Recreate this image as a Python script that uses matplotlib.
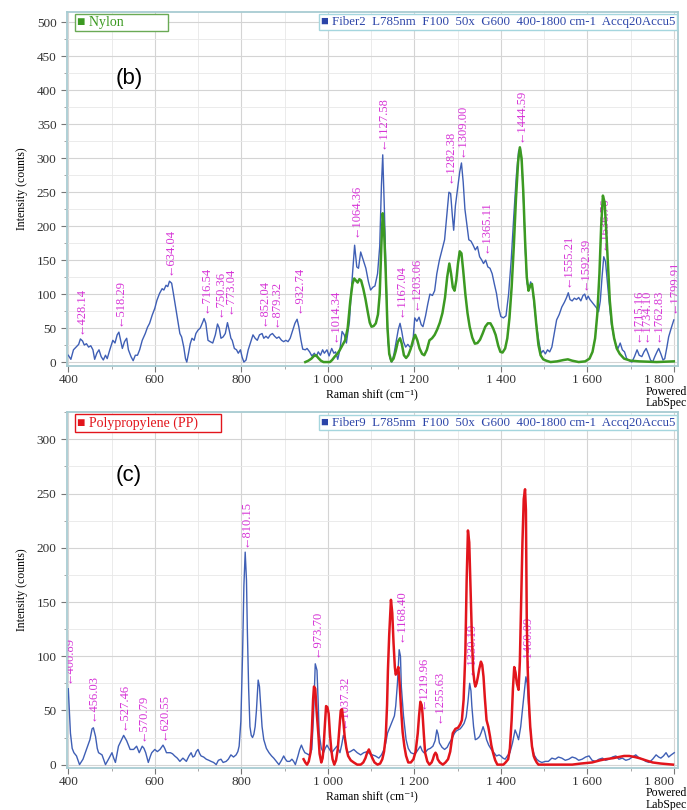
import matplotlib
matplotlib.use("Agg")
import matplotlib.pyplot as plt
from matplotlib.ticker import MultipleLocator, FuncFormatter

SERIF = ["Liberation Serif", "DejaVu Serif"]
MAGENTA = "#d634d6"
BLUE = "#3f5fb5"
GREEN = "#3c9a22"
RED = "#e2151c"

# ---- panel (b): Fiber2 vs Nylon reference ----
fiber2_x = [400, 406, 412, 418, 424, 428, 433, 437, 442, 447, 452, 457, 461, 466, 471, 476, 481, 486, 490, 496,
            503, 508, 513, 517, 521, 525, 530, 535, 539, 545, 550, 555, 560, 565, 571, 578, 583, 588, 594, 600,
            605, 611, 617, 621, 626, 630, 634, 639, 643, 648, 653, 658, 662, 667, 671, 674, 678, 682, 686, 691,
            695, 700, 705, 711, 714, 718, 723, 728, 734, 740, 745, 749, 753, 758, 763, 768, 772, 776, 779, 784,
            789, 793, 798, 802, 806, 811, 816, 822, 827, 832, 837, 842, 848, 852, 857, 862, 867, 872, 877, 882,
            887, 893, 898, 903, 908, 913, 919, 924, 929, 933, 938, 942, 948, 952, 958, 963, 969, 973, 978, 983,
            988, 992, 998, 1003, 1009, 1014, 1018, 1023, 1028, 1033, 1038, 1043, 1050, 1056, 1062, 1067, 1071, 1076,
            1082, 1088, 1094, 1099, 1104, 1109, 1115, 1120, 1124, 1127, 1131, 1135, 1139, 1144, 1148, 1153, 1158,
            1163, 1167, 1171, 1175, 1180, 1185, 1190, 1196, 1201, 1206, 1211, 1216, 1220, 1226, 1231, 1236, 1242,
            1247, 1252, 1258, 1264, 1270, 1275, 1280, 1284, 1288, 1291, 1295, 1300, 1305, 1309, 1313, 1317, 1321,
            1326, 1331, 1336, 1341, 1346, 1351, 1356, 1360, 1365, 1370, 1375, 1380, 1385, 1390, 1395, 1400, 1406,
            1412, 1418, 1424, 1430, 1436, 1441, 1445, 1449, 1453, 1457, 1461, 1465, 1469, 1473, 1478, 1483, 1488,
            1493, 1498, 1503, 1508, 1513, 1518, 1523, 1529, 1535, 1541, 1547, 1552, 1556, 1560, 1565, 1570, 1575,
            1580, 1585, 1590, 1594, 1598, 1602, 1606, 1611, 1616, 1621, 1626, 1630, 1634, 1638, 1642, 1646, 1651,
            1656, 1661, 1666, 1671, 1676, 1681, 1686, 1691, 1697, 1703, 1709, 1715, 1720, 1726, 1731, 1736, 1741,
            1746, 1751, 1756, 1761, 1765, 1770, 1775, 1779, 1784, 1788, 1794, 1800]
fiber2_y = [10, 4, 18, 22, 26, 34, 31, 25, 27, 22, 24, 18, 4, 13, 18, 8, 3, 10, 5, 18,
            32, 28, 40, 44, 32, 20, 30, 35, 18, 8, 2, 10, 10, 18, 32, 42, 51, 57, 69, 79,
            91, 101, 108, 106, 113, 111, 119, 116, 101, 81, 62, 42, 37, 22, 5, 0, 13, 27, 35, 32,
            42, 47, 50, 59, 64, 57, 32, 30, 28, 40, 56, 50, 35, 37, 42, 58, 47, 35, 32, 20,
            18, 13, 18, 7, 0, 3, 18, 30, 40, 35, 32, 40, 42, 35, 38, 35, 40, 42, 38, 35,
            37, 32, 30, 32, 30, 35, 47, 57, 63, 52, 32, 19, 18, 20, 15, 9, 13, 8, 15, 10,
            18, 13, 18, 9, 20, 13, 15, 4, 18, 45, 40, 28, 60, 120, 172, 140, 138, 162,
            150, 138, 118, 106, 110, 112, 130, 170, 260, 305, 220, 120, 30, 5, 0, 12, 30,
            48, 57, 45, 30, 22, 26, 22, 24, 65, 60, 66, 55, 52, 68, 85, 100, 98,
            105, 130, 150, 165, 180, 215, 250, 248, 215, 194, 230, 255, 280, 293, 265, 225, 205,
            180, 178, 172, 165, 170, 155, 150, 145, 150, 140, 138, 130, 115, 101, 80, 67, 65,
            68, 100, 150, 215, 275, 310, 316, 290, 230, 160, 115, 108, 118, 110, 80, 52, 30,
            13, 17, 12, 18, 15, 22, 40, 62, 70, 81, 88, 95, 102, 92, 90, 94, 92,
            95, 90, 98, 100, 92, 97, 92, 88, 84, 80, 74, 90, 125, 155, 148, 120, 85,
            55, 38, 25, 20, 28, 18, 15, 5, 2, 0, 8, 18, 10, 8, 15, 20, 12,
            3, 0, 8, 15, 20, 12, 3, 5, 22, 37, 50, 62]

nylon_x = [948, 955, 962, 968, 973, 978, 984, 990, 998, 1005, 1010, 1016, 1022, 1028, 1034, 1040, 1046, 1052,
           1057, 1061, 1065, 1069, 1073, 1077, 1082, 1087, 1092, 1097, 1101, 1106, 1111, 1116, 1120, 1124, 1127,
           1130, 1134, 1138, 1142, 1147, 1152, 1157, 1162, 1167, 1171, 1176, 1181, 1186, 1192, 1197, 1202, 1207,
           1212, 1218, 1223, 1229, 1235, 1241, 1247, 1253, 1259, 1265, 1271, 1276, 1281, 1285, 1289, 1293, 1297,
           1301, 1305, 1309, 1313, 1318, 1323, 1328, 1334, 1340, 1346, 1352, 1358, 1364, 1370, 1376, 1382, 1388,
           1394, 1399, 1404, 1410, 1415, 1420, 1425, 1430, 1435, 1440, 1444, 1448, 1452, 1456, 1460, 1464, 1468,
           1472, 1477, 1482, 1487, 1492, 1498, 1505, 1515, 1530, 1545, 1555, 1565, 1580, 1595, 1605, 1612, 1618,
           1623, 1628, 1632, 1636, 1640, 1644, 1648, 1652, 1657, 1662, 1668, 1675, 1685, 1700, 1720, 1760, 1800]
nylon_y = [0, 2, 5, 9, 10, 6, 2, 0, 0, 0, 3, 8, 12, 18, 25, 32, 50, 90,
           115, 123, 120, 117, 122, 120, 108, 93, 75, 58, 52, 53, 57, 70, 100, 175, 219,
           195, 130, 50, 12, 1, 5, 16, 30, 35, 27, 10, 6, 10, 20, 32, 40, 32,
           20, 12, 10, 18, 32, 35, 40, 48, 58, 72, 95, 125, 145, 130, 110, 105, 120,
           145, 163, 160, 135, 100, 72, 52, 36, 27, 28, 33, 42, 52, 57, 57, 50, 40,
           24, 15, 14, 20, 35, 65, 110, 170, 240, 295, 316, 300, 250, 180, 125, 105, 112,
           115, 90, 55, 25, 10, 4, 2, 0, 1, 3, 4, 2, 0, 1, 5, 15, 35,
           70, 130, 200, 245, 235, 190, 140, 90, 55, 35, 20, 12, 5, 2, 1, 0, 1]

peaks_b = [428.14, 518.29, 634.04, 716.54, 750.36, 773.04, 852.04, 879.32, 932.74, 1014.34, 1064.36, 1127.58,
           1167.04, 1203.06, 1282.38, 1309.00, 1365.11, 1444.59, 1555.21, 1592.39, 1636.76, 1715.16, 1734.10,
           1762.83, 1799.91]
peak_tips_b = [42, 53, 128, 72, 67, 70, 53, 52, 72, 30, 184, 314, 67, 76, 263, 302, 160, 324, 111, 106, 165,
               30, 30, 30, 72]

# ---- panel (c): Fiber9 vs Polypropylene reference ----
fiber9_x = [400, 405, 409, 413, 419, 426, 434, 442, 450, 455, 458, 463, 467, 470, 478, 486, 493, 501, 505, 509,
            516, 522, 528, 535, 540, 543, 551, 558, 564, 571, 575, 579, 585, 590, 593, 600, 606, 612, 619, 623,
            627, 636, 641, 646, 652, 658, 665, 673, 679, 684, 688, 692, 696, 700, 704, 707, 713, 719, 725, 730,
            736, 742, 747, 753, 758, 765, 770, 776, 782, 788, 792, 795, 799, 803, 806, 809, 812, 814, 817, 820,
            823, 826, 829, 832, 835, 839, 842, 845, 848, 852, 858, 864, 870, 875, 881, 887, 893, 898, 902, 906,
            912, 917, 921, 925, 931, 935, 939, 943, 947, 952, 956, 960, 963, 967, 971, 975, 978, 980, 985, 990,
            994, 998, 1004, 1009, 1015, 1021, 1025, 1028, 1032, 1036, 1040, 1045, 1052, 1060, 1068, 1076, 1083, 1091,
            1097, 1103, 1110, 1118, 1124, 1130, 1134, 1138, 1144, 1150, 1154, 1157, 1161, 1165, 1168, 1170, 1175,
            1181, 1186, 1192, 1198, 1204, 1209, 1214, 1218, 1222, 1227, 1231, 1237, 1243, 1248, 1252, 1255, 1258,
            1264, 1270, 1276, 1281, 1287, 1293, 1297, 1301, 1306, 1310, 1315, 1320, 1324, 1328, 1331, 1333, 1337,
            1341, 1346, 1351, 1355, 1359, 1363, 1367, 1372, 1378, 1384, 1390, 1396, 1400, 1405, 1410, 1415, 1421,
            1427, 1433, 1437, 1441, 1446, 1450, 1455, 1458, 1461, 1464, 1468, 1472, 1477, 1483, 1489, 1495, 1503,
            1510, 1518, 1526, 1533, 1541, 1549, 1557, 1565, 1573, 1580, 1588, 1596, 1604, 1611, 1619, 1627, 1635,
            1642, 1650, 1658, 1666, 1673, 1681, 1689, 1697, 1704, 1712, 1720, 1728, 1735, 1743, 1751, 1759, 1765,
            1770, 1776, 1782, 1788, 1794, 1801]
fiber9_y = [70, 29, 15, 11, 8, 0, 5, 14, 23, 33, 34, 26, 15, 11, 9, 0, 5, 11, 6, 2,
            17, 22, 27, 22, 17, 14, 14, 17, 11, 17, 15, 11, 2, 8, 11, 14, 12, 14, 18, 15,
            11, 11, 10, 8, 6, 3, 6, 3, 8, 11, 7, 8, 12, 14, 10, 8, 7, 5, 4, 3,
            2, 0, 4, 5, 2, 3, 5, 9, 7, 9, 12, 17, 40, 103, 165, 196, 170, 124, 70, 35,
            27, 25, 28, 35, 50, 78, 72, 54, 35, 23, 15, 11, 8, 6, 3, 0, 4, 8, 5, 3,
            3, 5, 3, 0, 8, 14, 18, 14, 11, 10, 9, 11, 14, 45, 93, 87, 55, 29, 15, 11,
            15, 18, 14, 11, 14, 17, 14, 11, 18, 27, 22, 11, 12, 14, 11, 9, 11, 12,
            10, 9, 8, 6, 9, 14, 20, 29, 35, 41, 45, 54, 75, 106, 100, 72, 45,
            23, 15, 11, 10, 11, 14, 17, 13, 11, 12, 14, 15, 17, 22, 32, 28, 20,
            16, 14, 16, 20, 24, 29, 31, 32, 33, 35, 38, 44, 58, 75, 68, 54, 35,
            23, 24, 26, 30, 35, 30, 23, 18, 14, 11, 8, 9, 8, 6, 5, 8, 11,
            20, 32, 28, 23, 35, 51, 70, 81, 75, 57, 35, 17, 9, 5, 3, 2, 3,
            3, 6, 5, 7, 6, 4, 5, 7, 6, 4, 5, 7, 8, 4, 3, 5, 6,
            4, 5, 7, 8, 5, 6, 4, 5, 7, 9, 6, 5, 3, 2, 5, 9, 7,
            6, 8, 11, 7, 9, 11]

pp_x = [944, 948, 952, 956, 960, 963, 966, 968, 971, 974, 978, 981, 985, 988, 990, 993, 996, 999, 1002, 1005,
        1008, 1011, 1015, 1019, 1023, 1027, 1030, 1033, 1036, 1039, 1043, 1047, 1053, 1060, 1068, 1076, 1082, 1087,
        1091, 1095, 1099, 1103, 1108, 1115, 1121, 1126, 1130, 1134, 1137, 1139, 1142, 1146, 1149, 1152, 1155, 1157,
        1160, 1163, 1166, 1169, 1173, 1177, 1181, 1186, 1192, 1198, 1203, 1208, 1211, 1214, 1217, 1219, 1222, 1225,
        1230, 1235, 1240, 1243, 1246, 1249, 1252, 1254, 1259, 1266, 1272, 1278, 1283, 1289, 1295, 1301, 1306, 1310,
        1314, 1318, 1321, 1324, 1327, 1330, 1333, 1336, 1339, 1341, 1344, 1347, 1350, 1354, 1357, 1360, 1363, 1367,
        1371, 1375, 1378, 1382, 1387, 1392, 1399, 1406, 1411, 1417, 1421, 1425, 1428, 1431, 1434, 1437, 1441, 1444,
        1447, 1450, 1453, 1456, 1458, 1460, 1462, 1465, 1468, 1472, 1476, 1479, 1483, 1487, 1500, 1526, 1550, 1565,
        1585, 1611, 1630, 1642, 1660, 1673, 1685, 1697, 1710, 1720, 1735, 1751, 1770, 1798]
pp_y = [5, 2, 0, 3, 11, 30, 60, 72, 70, 50, 29, 10, 2, 6, 14, 35, 54, 53, 47, 28,
        14, 5, 0, 4, 14, 35, 50, 51, 40, 26, 15, 8, 4, 2, 0, 0, 2, 6,
        11, 14, 10, 6, 2, 0, 1, 5, 12, 26, 55, 87, 120, 152, 140, 112, 90, 83,
        85, 90, 75, 54, 30, 17, 8, 2, 2, 5, 12, 29, 45, 58, 55, 47, 28, 11,
        3, 0, 2, 5, 9, 11, 9, 5, 2, 0, 2, 5, 12, 29, 33, 34, 37, 41,
        60, 103, 170, 216, 205, 164, 120, 87, 76, 72, 75, 81, 88, 95, 92, 81, 62, 41,
        35, 26, 18, 11, 4, 0, 0, 0, 2, 5, 15, 41, 70, 90, 85, 75, 69, 95,
        149, 205, 245, 254, 235, 133, 90, 57, 35, 17, 8, 5, 2, 0, 0, 0, 0, 0,
        1, 2, 4, 5, 6, 7, 8, 8, 7, 6, 4, 2, 1, 0]

peaks_c = [400.89, 456.03, 527.46, 570.79, 620.55, 810.15, 973.70, 1037.32, 1168.40, 1219.96, 1255.63,
           1330.19, 1460.09]
peak_tips_c = [75, 40, 32, 22, 23, 201, 99, 34, 113, 51, 38, 83, 89]

x_ticks = [400, 600, 800, 1000, 1200, 1400, 1600, 1800]


def thousands(v, pos):
    return f"{int(round(v)):,}".replace(",", " ")


def style_axes(ax, ylim, ymajor):
    ax.set_xlim(397, 1809)
    ax.set_ylim(*ylim)
    ax.set_xticks(x_ticks)
    ax.xaxis.set_minor_locator(MultipleLocator(100))
    ax.yaxis.set_major_locator(MultipleLocator(ymajor))
    ax.yaxis.set_minor_locator(MultipleLocator(ymajor / 2))
    ax.xaxis.set_major_formatter(FuncFormatter(thousands))
    ax.grid(which="major", color="#d4d4d4", lw=0.8)
    ax.grid(which="minor", color="#e8e8e8", lw=0.6)
    ax.set_axisbelow(True)
    for s in ax.spines.values():
        s.set_color("#a8ccd2")
        s.set_linewidth(1.3)
    ax.tick_params(which="major", length=4, color="#777777", labelsize=9.5)
    ax.tick_params(which="minor", length=2.5, color="#999999")
    ax.tick_params(axis="x", pad=1.5)
    for lab in ax.get_xticklabels() + ax.get_yticklabels():
        lab.set_family(SERIF)
        lab.set_color("#333333")
    ax.get_xticklabels()[-1].set_ha("right")
    ax.set_ylabel("Intensity (counts)", family=SERIF, fontsize=8.5, labelpad=6)
    ax.set_xlabel("Raman shift (cm\u207b\u00b9)", family=SERIF, fontsize=8.5, labelpad=2)
    ax.text(1.015, -0.055, "Powered\nLabSpec", transform=ax.transAxes, ha="right", va="top",
            family=SERIF, fontsize=8.5, linespacing=0.9)


def label_peaks(ax, xs, tips):
    for x, t in zip(xs, tips):
        ax.text(x, t, "\u2190" + f"{x:.2f}", rotation=90, ha="center", va="bottom",
                color=MAGENTA, fontsize=9, family=SERIF, zorder=2.5, clip_on=True)


def legend_box(ax, x, text, color, edge, ha="left", size=10):
    ax.text(x, 0.988, "\u25a0 " + text, transform=ax.transAxes, ha=ha, va="top",
            color=color, fontsize=size, family=SERIF, zorder=5,
            bbox=dict(boxstyle="square,pad=0.15", fc="white", ec=edge, lw=1.0))


fig = plt.figure(figsize=(6.87, 8.10), dpi=100)

# panel (b)
ax1 = fig.add_axes([0.0975, 0.548, 0.889, 0.437])
ax1.plot(fiber2_x, fiber2_y, color=BLUE, lw=1.0, zorder=2)
label_peaks(ax1, peaks_b, peak_tips_b)
ax1.plot(nylon_x, nylon_y, color=GREEN, lw=1.8, zorder=3)
style_axes(ax1, (-6, 515), 50)
legend_box(ax1, 0.017, "Nylon            ", GREEN, "#6aaa55")
legend_box(ax1, 0.996, "Fiber2  L785nm  F100  50x  G600  400-1800 cm-1  Accq20Accu5", "#2b44a8", "#a5d6de",
           ha="right", size=9.3)
ax1.text(540, 418, "(b)", fontsize=16, family=["Liberation Sans", "DejaVu Sans"], ha="center", va="center")

# panel (c)
ax2 = fig.add_axes([0.0975, 0.052, 0.889, 0.439])
ax2.plot(fiber9_x, fiber9_y, color=BLUE, lw=1.0, zorder=2)
label_peaks(ax2, peaks_c, peak_tips_c)
ax2.plot(pp_x, pp_y, color=RED, lw=1.8, zorder=3)
style_axes(ax2, (-3, 325), 50)
legend_box(ax2, 0.017, "Polypropylene (PP)      ", RED, RED)
legend_box(ax2, 0.996, "Fiber9  L785nm  F100  50x  G600  400-1800 cm-1  Accq20Accu5", "#2b44a8", "#a5d6de",
           ha="right", size=9.3)
ax2.text(540, 267, "(c)", fontsize=16, family=["Liberation Sans", "DejaVu Sans"], ha="center", va="center")

fig.savefig("out.png", dpi=100, facecolor="white")
